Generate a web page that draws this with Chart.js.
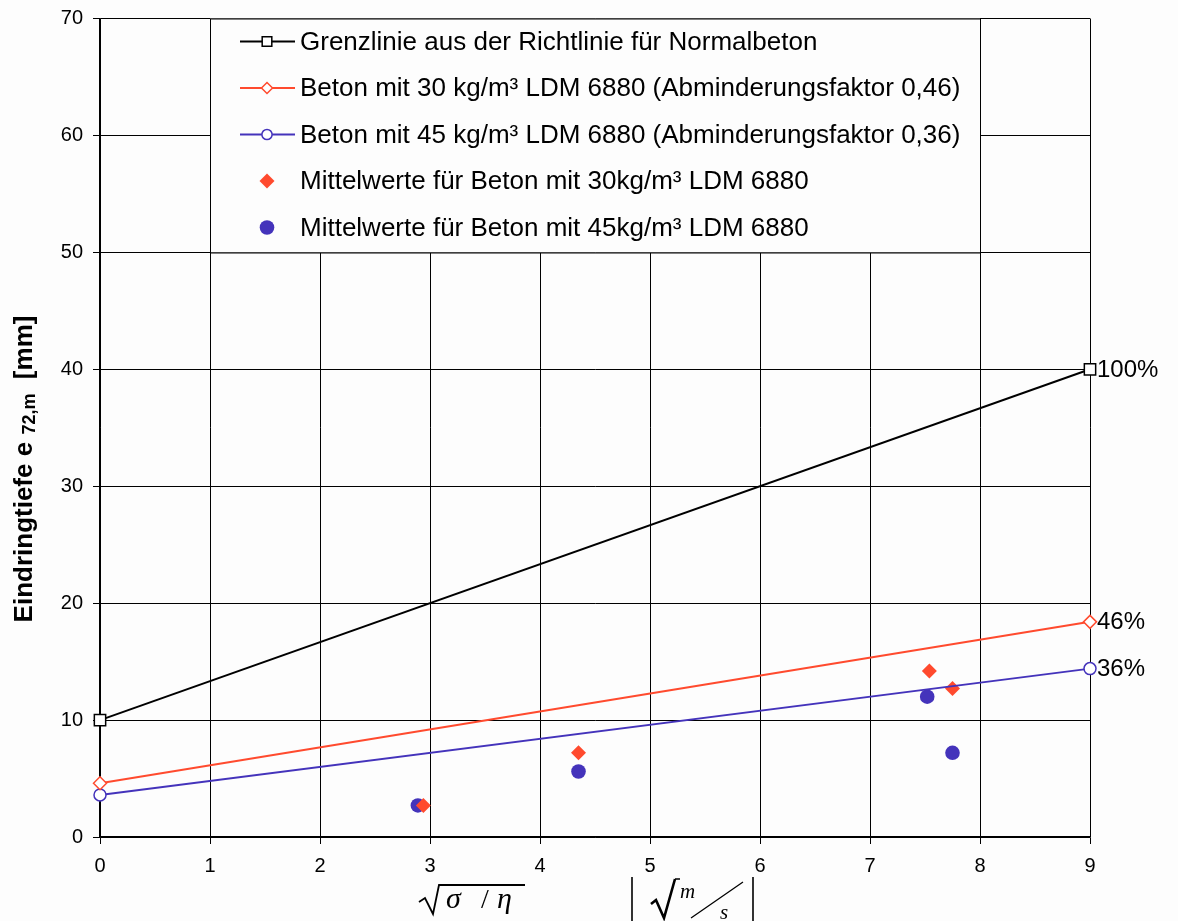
<!DOCTYPE html>
<html>
<head>
<meta charset="utf-8">
<script src="https://cdn.jsdelivr.net/npm/chart.js@4"></script>
<style>
  html, body { margin: 0; padding: 0; background: #fdfdfd; }
  #wrap { width: 1178px; height: 921px; }
</style>
</head>
<body>
<div id="wrap"><canvas id="chart" width="1178" height="921"></canvas></div>
<script>
// values
const xLimits = [0, 9];
const grenzlinie = [10, 40];
const beton30 = [4.6, 18.4];
const beton45 = [3.6, 14.4];
const mittelX30 = [2.94, 4.35, 7.54, 7.75];
const mittel30 = [2.7, 7.2, 14.2, 12.7];
const mittelX45 = [2.89, 4.35, 7.52, 7.75];
const mittel45 = [2.7, 5.6, 12.0, 7.2];
const endLabels = ["100%", "46%", "36%"];
const legendLabels = [
  "Grenzlinie aus der Richtlinie für Normalbeton",
  "Beton mit 30 kg/m³ LDM 6880 (Abminderungsfaktor 0,46)",
  "Beton mit 45 kg/m³ LDM 6880 (Abminderungsfaktor 0,36)",
  "Mittelwerte für Beton mit 30kg/m³ LDM 6880",
  "Mittelwerte für Beton mit 45kg/m³ LDM 6880"
];

const RED = "#ff4a2e";
const BLUE = "#4433bb";
const FONT = "'Liberation Sans', Arial, sans-serif";
const SERIF = "'Liberation Serif', 'Times New Roman', serif";

function pts(xs, ys) {
  return ys.map((y, i) => ({ x: xs[i], y: y }));
}

const datasets = [
  { label: legendLabels[0], type: "line", data: pts(xLimits, grenzlinie), borderColor: "#000", borderWidth: 2, clip: false,
    pointStyle: "rect", pointRadius: 8, pointBackgroundColor: "#fff", pointBorderColor: "#000", pointBorderWidth: 1.5 },
  { label: legendLabels[1], type: "line", data: pts(xLimits, beton30), borderColor: RED, borderWidth: 2, clip: false,
    pointStyle: "rectRot", pointRadius: 6.5, pointBackgroundColor: "#fff", pointBorderColor: RED, pointBorderWidth: 1.5 },
  { label: legendLabels[2], type: "line", data: pts(xLimits, beton45), borderColor: BLUE, borderWidth: 2, clip: false,
    pointStyle: "circle", pointRadius: 6, pointBackgroundColor: "#fff", pointBorderColor: BLUE, pointBorderWidth: 1.5 },
  { label: legendLabels[3], type: "scatter", data: pts(mittelX30, mittel30), showLine: false,
    pointStyle: "rectRot", pointRadius: 7.5, backgroundColor: RED, borderColor: RED, borderWidth: 0 },
  { label: legendLabels[4], type: "scatter", data: pts(mittelX45, mittel45), showLine: false,
    pointStyle: "circle", pointRadius: 7.3, backgroundColor: BLUE, borderColor: BLUE, borderWidth: 0 }
];

const extras = {
  id: "extras",
  afterDraw(chart) {
    const ctx = chart.ctx;
    const xs = chart.scales.x, ys = chart.scales.y;
    ctx.save();

    // end labels
    ctx.fillStyle = "#000";
    ctx.font = "24px " + FONT;
    ctx.textAlign = "left";
    ctx.textBaseline = "middle";
    [grenzlinie, beton30, beton45].forEach((arr, i) => {
      ctx.fillText(endLabels[i], xs.getPixelForValue(xLimits[1]) + 7, ys.getPixelForValue(arr[1]) + 1);
    });

    // legend box
    const lx = 210, ly = ys.top, lw = 770, lh = 234;
    ctx.fillStyle = "#fdfdfd";
    ctx.fillRect(lx, ly, lw, lh);
    ctx.strokeStyle = "#000";
    ctx.lineWidth = 1;
    ctx.strokeRect(lx + 0.5, ly + 0.5, lw, lh);
    chart.data.datasets.forEach((ds, i) => {
      const cy = ly + 23 + i * 46.5;
      if (ds.type === "line") {
        ctx.strokeStyle = ds.borderColor;
        ctx.lineWidth = 2;
        ctx.beginPath();
        ctx.moveTo(240, cy);
        ctx.lineTo(295, cy);
        ctx.stroke();
        ctx.fillStyle = "#fff";
        ctx.strokeStyle = ds.pointBorderColor;
        ctx.lineWidth = 1.5;
        Chart.helpers.drawPoint(ctx, { pointStyle: ds.pointStyle, radius: ds.pointRadius * 0.85, borderWidth: 1.5 }, 267, cy);
      } else {
        ctx.fillStyle = ds.backgroundColor;
        ctx.strokeStyle = ds.borderColor;
        Chart.helpers.drawPoint(ctx, { pointStyle: ds.pointStyle, radius: ds.pointRadius, borderWidth: 0 }, 267, cy);
      }
      ctx.fillStyle = "#000";
      ctx.font = "26px " + FONT;
      ctx.textAlign = "left";
      ctx.textBaseline = "middle";
      ctx.fillText(ds.label, 300, cy + 1);
    });

    // y axis title with subscript
    ctx.translate(32, 469);
    ctx.rotate(-Math.PI / 2);
    ctx.fillStyle = "#000";
    ctx.textBaseline = "alphabetic";
    const main = "Eindringtiefe e ";
    const sub = "72,m";
    const unit = "  [mm]";
    ctx.font = "bold 26px " + FONT;
    const w1 = ctx.measureText(main).width;
    const w3 = ctx.measureText(unit).width;
    ctx.font = "bold 18px " + FONT;
    const w2 = ctx.measureText(sub).width;
    let tx = -(w1 + w2 + w3) / 2;
    ctx.font = "bold 26px " + FONT;
    ctx.fillText(main, tx, 0);
    ctx.font = "bold 18px " + FONT;
    ctx.fillText(sub, tx + w1, 3);
    ctx.font = "bold 26px " + FONT;
    ctx.fillText(unit, tx + w1 + w2, 0);
    ctx.setTransform(1, 0, 0, 1, 0, 0);

    // x axis formula
    ctx.fillStyle = "#000";
    ctx.strokeStyle = "#000";
    ctx.textBaseline = "alphabetic";
    ctx.textAlign = "left";
    ctx.lineWidth = 1.8;
    ctx.beginPath();
    ctx.moveTo(419, 902); ctx.lineTo(425, 898); ctx.lineTo(433, 914);
    ctx.lineTo(439, 885); ctx.lineTo(525, 885);
    ctx.stroke();
    ctx.font = "italic 30px " + SERIF;
    ctx.fillText("σ", 446, 908);
    ctx.font = "28px " + SERIF;
    ctx.fillText("/", 481, 908);
    ctx.font = "italic 30px " + SERIF;
    ctx.fillText("η", 497, 908);
    // second expression with bars
    ctx.lineWidth = 1.6;
    ctx.beginPath();
    ctx.moveTo(632, 877); ctx.lineTo(632, 921);
    ctx.moveTo(753, 877); ctx.lineTo(753, 921);
    ctx.stroke();
    ctx.lineWidth = 2.6;
    ctx.beginPath();
    ctx.moveTo(651, 904); ctx.lineTo(656, 900); ctx.lineTo(664, 918);
    ctx.lineTo(675, 879);
    ctx.stroke();
    ctx.lineWidth = 1.3;
    ctx.beginPath();
    ctx.moveTo(675, 879); ctx.lineTo(680, 879);
    ctx.moveTo(691, 918); ctx.lineTo(743, 882);
    ctx.stroke();
    ctx.font = "italic 21px " + SERIF;
    ctx.fillText("m", 680, 898);
    ctx.fillText("s", 720, 919);

    ctx.restore();
  }
};

const bgPlugin = {
  id: "bg",
  beforeDraw(chart) {
    const ctx = chart.ctx;
    ctx.save();
    ctx.fillStyle = "#fdfdfd";
    ctx.fillRect(0, 0, chart.width, chart.height);
    ctx.restore();
  }
};

new Chart(document.getElementById("chart"), {
  type: "scatter",
  data: { datasets: datasets },
  plugins: [bgPlugin, extras],
  options: {
    responsive: false,
    animation: false,
    layout: { padding: { left: 0, right: 88, top: 18, bottom: 0 } },
    plugins: { legend: { display: false }, tooltip: { enabled: false }, title: { display: false } },
    scales: {
      x: {
        type: "linear", min: 0, max: 9,
        afterFit(s) { s.height = 84; },
        ticks: { stepSize: 1, color: "#000", font: { family: FONT, size: 20, lineHeight: 1 }, padding: 12 },
        grid: { color: "#000", lineWidth: 1, tickLength: 7, drawOnChartArea: true },
        border: { color: "#000", width: 1.5 }
      },
      y: {
        type: "linear", min: 0, max: 70,
        afterFit(s) { s.width = 100; },
        ticks: { stepSize: 10, color: "#000", font: { family: FONT, size: 20, lineHeight: 0.85 }, padding: 10 },
        grid: { color: "#000", lineWidth: 1, tickLength: 7 },
        border: { color: "#000", width: 1.5 }
      }
    }
  }
});
</script>
</body>
</html>
